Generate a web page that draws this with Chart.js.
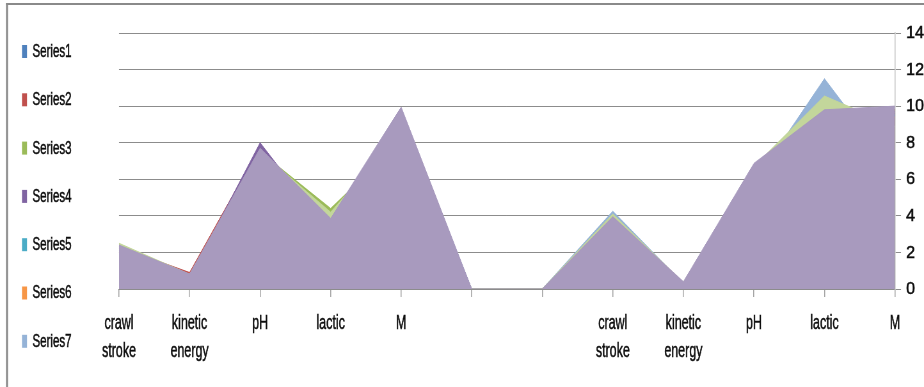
<!DOCTYPE html>
<html>
<head>
<meta charset="utf-8">
<script src="https://cdn.jsdelivr.net/npm/chart.js@4/dist/chart.umd.min.js"></script>
<style>
  html, body { margin: 0; padding: 0; background: #ffffff; }
  #wrap { position: relative; width: 924px; height: 387px; overflow: hidden; }
  canvas { display: block; }
</style>
</head>
<body>
<div id="wrap"><canvas id="chart"></canvas></div>
<script>
// Category axis: two blocks of the same five measures, separated by two empty slots
const categories = [
  ['crawl', 'stroke'], ['kinetic', 'energy'], 'pH', 'lactic', 'M', '', '',
  ['crawl', 'stroke'], ['kinetic', 'energy'], 'pH', 'lactic', 'M'
];

// Value axis ticks
const yMin = 0;
const yMax = 14;
const yStep = 2;

// Series values, one per category
const series1  = [2.2, 0.6, 7.2, 3.5, 9.4, 0, 0, 3.7, 0.2, 6.4, 9.5, 9.6];
const series2  = [2.3, 0.9, 7.8, 3.5, 9.5, 0, 0, 3.8, 0.3, 6.5, 9.5, 9.8];
const series3  = [2.3, 0.7, 7.5, 4.4, 8.1, 0, 0, 3.8, 0.3, 6.5, 9.7, 9.8];
const series4  = [2.2, 0.6, 8.0, 3.0, 9.6, 0, 0, 3.7, 0.2, 6.4, 9.4, 9.7];
const series5  = [2.1, 0.5, 7.0, 3.4, 9.2, 0, 0, 3.6, 0.2, 6.2, 9.3, 9.5];
const series6  = [2.0, 0.5, 6.9, 3.3, 9.0, 0, 0, 3.5, 0.1, 6.0, 9.2, 9.4];
const series7  = [2.3, 0.75, 7.4, 3.7, 9.8, 0, 0, 4.25, 0.3, 5.8, 11.5, 6.4];
const series9  = [2.5, 0.8, 7.5, 4.2, 8.6, 0, 0, 4.1, 0.35, 6.7, 10.55, 8.9];
const series10 = [2.4, 0.82, 7.7, 3.86, 9.95, 0, 0, 3.95, 0.4, 6.87, 9.8, 10.0];

const seriesNames  = ['Series1', 'Series2', 'Series3', 'Series4', 'Series5', 'Series6', 'Series7', 'Series9', 'Series10'];
const seriesValues = [series1, series2, series3, series4, series5, series6, series7, series9, series10];
const seriesColors = ['#4F81BD', '#C0504D', '#9BBB59', '#8064A2', '#4BACC6', '#F79646', '#95B3D7', '#C3D69B', '#A89ABE'];
const legendEntries = 7;   // the key lists the first seven series

// The chart is laid out on a wider canvas and shown horizontally condensed,
// which gives the narrow lettering of the original sheet.
const VIEW_W = 924, VIEW_H = 387;
const SQUEEZE = 0.64;
const DIGIT_SQUEEZE = 0.95;    // value labels are less condensed than words
const CANVAS_W = Math.round(VIEW_W / SQUEEZE);
const sx = v => v / SQUEEZE;   // on-screen horizontal px -> canvas px

const FONT = '"Liberation Sans", Arial, sans-serif';
const TEXT = '#0d0d0d';
const TEXT_STROKE = 0.5;

const canvas = document.getElementById('chart');
canvas.width = CANVAS_W;
canvas.height = VIEW_H;
canvas.style.width = VIEW_W + 'px';
canvas.style.height = VIEW_H + 'px';

// Later series are painted in front of earlier ones
const datasets = seriesNames.map((name, i) => ({
  label: name,
  data: seriesValues[i],
  backgroundColor: seriesColors[i],
  borderColor: seriesColors[i],
  borderWidth: 1,
  fill: 'origin',
  tension: 0,
  pointRadius: 0,
  pointHoverRadius: 0,
  order: seriesNames.length - i
}));

function drawText(ctx, text, x, y) {
  ctx.fillText(text, x, y);
  ctx.lineWidth = TEXT_STROKE;
  ctx.strokeText(text, x, y);
}

const decorations = {
  id: 'decorations',
  beforeDraw(chart) {
    const ctx = chart.ctx;
    ctx.save();
    ctx.fillStyle = '#ffffff';
    ctx.fillRect(0, 0, chart.width, chart.height);
    // outer frame (top and left edges)
    ctx.fillStyle = '#8a8a8a';
    ctx.fillRect(sx(6), 3, chart.width, 2);
    ctx.fillRect(sx(6), 3, sx(2), chart.height);
    ctx.restore();
  },
  afterDraw(chart) {
    const ctx = chart.ctx;
    ctx.save();
    ctx.textBaseline = 'middle';
    ctx.textAlign = 'left';
    ctx.strokeStyle = TEXT;

    // key on the left
    ctx.font = '18px ' + FONT;
    chart.data.datasets.slice(0, legendEntries).forEach((ds, i) => {
      const y = 51.5 + i * 48.3;
      ctx.fillStyle = ds.backgroundColor;
      ctx.fillRect(sx(22), y - 6.5, sx(5), 13);
      ctx.fillStyle = TEXT;
      drawText(ctx, ds.label, sx(32.5), y + 0.5);
    });

    // value labels of the right-hand axis, placed by the scale
    const yScale = chart.scales.y;
    const labelX = yScale.left + sx(11);
    ctx.font = '17px ' + FONT;
    ctx.fillStyle = TEXT;
    yScale.ticks.forEach(t => {
      const py = yScale.getPixelForValue(t.value);
      ctx.save();
      ctx.translate(labelX, py);
      ctx.scale(DIGIT_SQUEEZE / SQUEEZE, 1);
      drawText(ctx, String(t.value), 0, 0.5);
      ctx.restore();
    });
    ctx.restore();
  }
};

new Chart(canvas, {
  type: 'line',
  data: { labels: categories, datasets },
  options: {
    responsive: false,
    animation: false,
    devicePixelRatio: 1,
    layout: { padding: { left: sx(119), top: 33, right: 0, bottom: 0 } },
    plugins: {
      legend: { display: false },
      tooltip: { enabled: false },
      filler: { propagate: false }
    },
    scales: {
      x: {
        type: 'category',
        offset: false,
        grid: {
          offset: false,
          drawOnChartArea: false,
          drawTicks: true,
          tickLength: 8,
          lineWidth: sx(1),
          tickColor: '#a6a6a6'
        },
        border: { display: true, color: '#8c8c8c', width: 1 },
        ticks: {
          autoSkip: false,
          maxRotation: 0,
          minRotation: 0,
          padding: 13,
          color: TEXT,
          textStrokeColor: TEXT,
          textStrokeWidth: TEXT_STROKE,
          font: { family: FONT, size: 19.5, lineHeight: 28 / 19.5 }
        },
        afterFit(scale) { scale.height = 98; }
      },
      y: {
        position: 'right',
        min: yMin,
        max: yMax,
        grid: {
          color: '#8c8c8c',
          lineWidth: 1,
          drawTicks: true,
          tickLength: sx(6),
          tickColor: '#8c8c8c'
        },
        border: { display: true, color: '#c4c4c4', width: sx(1) },
        ticks: {
          display: false,
          stepSize: yStep
        },
        afterFit(scale) { scale.width = sx(29); }
      }
    }
  },
  plugins: [decorations]
});
</script>
</body>
</html>
